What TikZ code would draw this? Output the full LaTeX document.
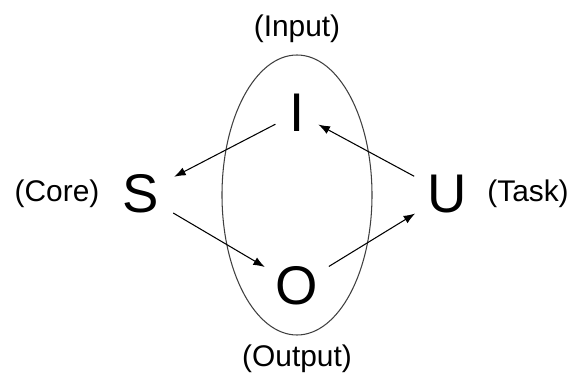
\documentclass[tikz,border=0pt]{standalone}
\usepackage{fontspec}
\setmainfont{Liberation Sans}
\usetikzlibrary{arrows.meta,positioning}

\begin{document}
\begin{tikzpicture}[
    letter/.style={circle, inner sep=0pt, minimum size=1.48cm, font=\fontsize{31}{31}\selectfont},
    tag/.style={font=\fontsize{17}{17}\selectfont},
    link/.style={-{Latex[length=2.3mm,width=1.7mm]}, line width=0.6pt}
]
    \useasboundingbox (0,0) rectangle (11.48,7.5);
    \draw[line width=0.6pt, black!75] (5.94,3.6) ellipse [x radius=1.5cm, y radius=2.8cm];

    \node[letter, minimum size=0.96cm] (I) at (5.94,5.24) {I};
    \node[letter] (S) at (2.82,3.62) {S};
    \node[letter] (U) at (8.94,3.62) {U};
    \node[letter] (O) at (5.94,1.78) {O};

    \node[tag] (input) at (5.94,6.92) {(Input)};
    \node[tag] (output) at (5.94,0.32) {(Output)};
    \node[tag] (core) at (1.14,3.62) {(Core)};
    \node[tag] (task) at (10.56,3.62) {(Task)};

    \draw[link] (I) -- (S);
    \draw[link] (S) -- (O);
    \draw[link] (O) -- (U);
    \draw[link] (U) -- (I);
\end{tikzpicture}
\end{document}
